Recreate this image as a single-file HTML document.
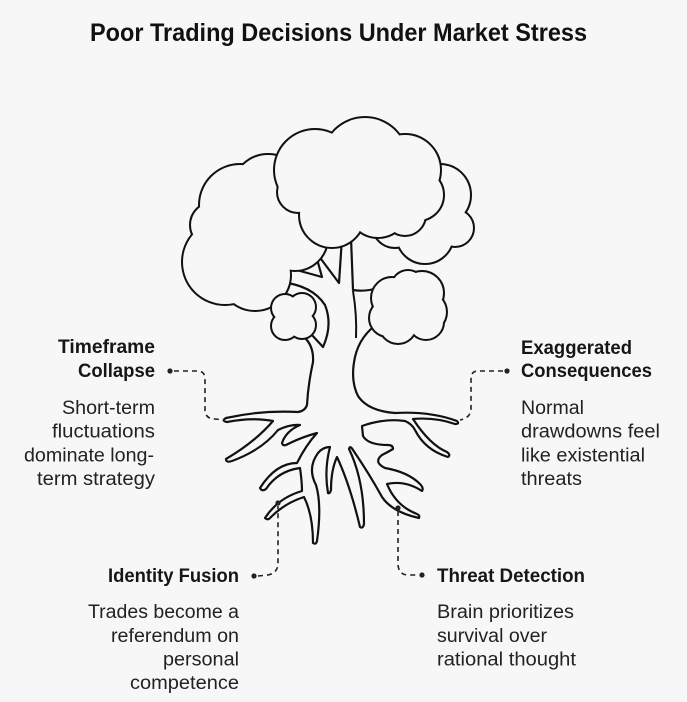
<!DOCTYPE html>
<html><head><meta charset="utf-8"><style>
html,body{margin:0;padding:0;background:#f7f7f7;}
svg{display:block;}
.b{font-family:"Liberation Sans",Arial,sans-serif;font-weight:bold;font-size:19px;fill:#161616;}
.r{font-family:"Liberation Sans",Arial,sans-serif;font-size:19px;fill:#222;}
.t{font-family:"Liberation Sans",Arial,sans-serif;font-weight:bold;font-size:25px;fill:#111;}
.d{fill:none;stroke:#222;stroke-width:1.6;stroke-dasharray:5 4;}
</style></head><body>
<svg width="687" height="702" viewBox="0 0 687 702" xmlns="http://www.w3.org/2000/svg">
<rect width="687" height="702" fill="#f7f7f7"/>
<defs>
<g id="cl"><circle cx="240" cy="205" r="40"/><circle cx="268" cy="190" r="35"/><circle cx="225" cy="262" r="42"/><circle cx="255" cy="275" r="35"/><circle cx="295" cy="238" r="32"/><circle cx="213" cy="225" r="22"/><circle cx="300" cy="200" r="30"/><circle cx="248" cy="238" r="30"/></g>
<g id="cr"><circle cx="440" cy="195" r="30"/><circle cx="425" cy="235" r="28"/><circle cx="395" cy="225" r="22"/><circle cx="455" cy="228" r="18"/></g>
<g id="cm"><circle cx="315" cy="170" r="40"/><circle cx="365" cy="160" r="42"/><circle cx="405" cy="170" r="35"/><circle cx="418" cy="195" r="25"/><circle cx="332" cy="215" r="32"/><circle cx="378" cy="207" r="30"/><circle cx="298" cy="192" r="20"/><circle cx="405" cy="215" r="20"/><circle cx="360" cy="200" r="30"/></g>
<g id="csr"><circle cx="392" cy="298" r="20"/><circle cx="408" cy="287" r="16"/><circle cx="422" cy="293" r="21"/><circle cx="426" cy="312" r="20"/><circle cx="426" cy="322" r="17"/><circle cx="398" cy="325" r="18"/><circle cx="388" cy="318" r="18"/><circle cx="408" cy="310" r="18"/></g>
<g id="csl"><circle cx="285" cy="308" r="13"/><circle cx="302" cy="307" r="13"/><circle cx="302" cy="325" r="13"/><circle cx="285" cy="326" r="13"/><circle cx="293" cy="316" r="14"/></g>
</defs>

<text class="t" x="90" y="41" textLength="497" lengthAdjust="spacingAndGlyphs">Poor Trading Decisions Under Market Stress</text>

<!-- trunk and roots -->
<path fill="#f7f7f7" stroke="#111" stroke-width="2.2" stroke-linejoin="round" d="M 342,238 L 339,283 L 321,259 L 317,259 L 322,277 L 282,266 L 280,282 Q 312,285 325,305 Q 333,325 323,347 L 311,334 L 304,337 Q 314,346 313,362 Q 308,385 307,405 Q 305,411 298,412 Q 262,410 226,418 Q 221,421 227,422 Q 252,417 273,421 Q 255,442 226,459 Q 226,463 232,461 Q 262,450 278,430 Q 290,424 300,425 Q 286,431 282,443 Q 283,447 288,444 Q 302,437 317,433 Q 306,445 297,463 Q 276,463 260,488 Q 262,492 266,489 Q 278,471 300,468 Q 302,482 302,491 Q 278,498 265,518 Q 268,521 271,517 Q 285,503 304,497 Q 313,515 313,543 Q 316,545 317,541 Q 322,505 316,485 Q 307,468 318,453 Q 323,447 330,447 Q 324,470 328,493 Q 330,494 331,490 Q 331,470 337,457 Q 350,485 360,527 Q 363,529 364,524 Q 364,480 349,449 Q 350,445 353,450 Q 370,475 382,497 Q 392,512 419,518 Q 420,515 417,514 Q 396,506 387,484 Q 405,480 422,491 Q 424,488 420,484 Q 408,472 385,468 Q 373,462 382,455 Q 388,452 393,449 Q 393,445 388,445 Q 368,445 363,436 L 362,426 Q 385,418 405,421 Q 412,424 415,430 Q 425,450 448,457 Q 451,455 447,452 Q 430,445 413,419 Q 435,417 455,424 Q 460,424 457,421 Q 430,411 395,413 Q 368,411 358,396 Q 350,380 355,357 Q 360,335 380,322 L 378,288 Q 365,292 353,290 L 351,238 Z"/>
<path fill="none" stroke="#111" stroke-width="2" d="M 353,291 Q 357,315 356,338"/>

<!-- back clouds -->
<use href="#cl" fill="none" stroke="#111" stroke-width="4"/>
<use href="#cl" fill="#f7f7f7"/>
<use href="#cr" fill="none" stroke="#111" stroke-width="4"/>
<use href="#cr" fill="#f7f7f7"/>

<!-- front clouds -->
<use href="#cm" fill="none" stroke="#111" stroke-width="4"/>
<use href="#cm" fill="#f7f7f7"/>
<use href="#csr" fill="none" stroke="#111" stroke-width="4"/>
<use href="#csr" fill="#f7f7f7"/>
<use href="#csl" fill="none" stroke="#111" stroke-width="4"/>
<use href="#csl" fill="#f7f7f7"/>

<!-- connectors -->
<path class="d" d="M 174,371 L 197,371 Q 205,371 205,379 L 205,411 Q 206,419 215,419 L 225,420"/>
<circle cx="170" cy="371" r="2.6" fill="#222"/>
<path class="d" d="M 503,371 L 478,371 Q 471,371 471,379 L 471,410 Q 470,418 460,420"/>
<circle cx="507" cy="371" r="2.6" fill="#222"/>
<path class="d" d="M 258,576 L 268,575 Q 278,573 278,563 L 278,506"/>
<circle cx="254" cy="576" r="2.6" fill="#222"/>
<circle cx="278" cy="503" r="2.6" fill="#222"/>
<path class="d" d="M 398,511 L 398,565 Q 399,575 408,575 L 418,575"/>
<circle cx="398" cy="508" r="2.6" fill="#222"/>
<circle cx="422" cy="575" r="2.6" fill="#222"/>

<!-- Timeframe Collapse -->
<text class="b" x="58" y="353" textLength="97" lengthAdjust="spacingAndGlyphs">Timeframe</text>
<text class="b" x="78" y="377" textLength="77" lengthAdjust="spacingAndGlyphs">Collapse</text>
<text class="r" x="62" y="414" textLength="93" lengthAdjust="spacingAndGlyphs">Short-term</text>
<text class="r" x="52" y="437.7" textLength="103" lengthAdjust="spacingAndGlyphs">fluctuations</text>
<text class="r" x="24" y="461.4" textLength="130" lengthAdjust="spacingAndGlyphs">dominate long-</text>
<text class="r" x="37" y="485" textLength="118" lengthAdjust="spacingAndGlyphs">term strategy</text>

<!-- Exaggerated Consequences -->
<text class="b" x="521" y="354" textLength="111" lengthAdjust="spacingAndGlyphs">Exaggerated</text>
<text class="b" x="521" y="377" textLength="131" lengthAdjust="spacingAndGlyphs">Consequences</text>
<text class="r" x="521" y="414" textLength="63" lengthAdjust="spacingAndGlyphs">Normal</text>
<text class="r" x="521" y="437.7" textLength="139" lengthAdjust="spacingAndGlyphs">drawdowns feel</text>
<text class="r" x="521" y="461.4" textLength="124" lengthAdjust="spacingAndGlyphs">like existential</text>
<text class="r" x="521" y="485" textLength="61" lengthAdjust="spacingAndGlyphs">threats</text>

<!-- Identity Fusion -->
<text class="b" x="108" y="582" textLength="131" lengthAdjust="spacingAndGlyphs">Identity Fusion</text>
<text class="r" x="88" y="618" textLength="151" lengthAdjust="spacingAndGlyphs">Trades become a</text>
<text class="r" x="111" y="642" textLength="128" lengthAdjust="spacingAndGlyphs">referendum on</text>
<text class="r" x="163" y="665.5" textLength="76" lengthAdjust="spacingAndGlyphs">personal</text>
<text class="r" x="130" y="689" textLength="109" lengthAdjust="spacingAndGlyphs">competence</text>

<!-- Threat Detection -->
<text class="b" x="437" y="582" textLength="148" lengthAdjust="spacingAndGlyphs">Threat Detection</text>
<text class="r" x="437" y="618" textLength="137" lengthAdjust="spacingAndGlyphs">Brain prioritizes</text>
<text class="r" x="437" y="642" textLength="110" lengthAdjust="spacingAndGlyphs">survival over</text>
<text class="r" x="437" y="665.5" textLength="139" lengthAdjust="spacingAndGlyphs">rational thought</text>
</svg>
</body></html>
